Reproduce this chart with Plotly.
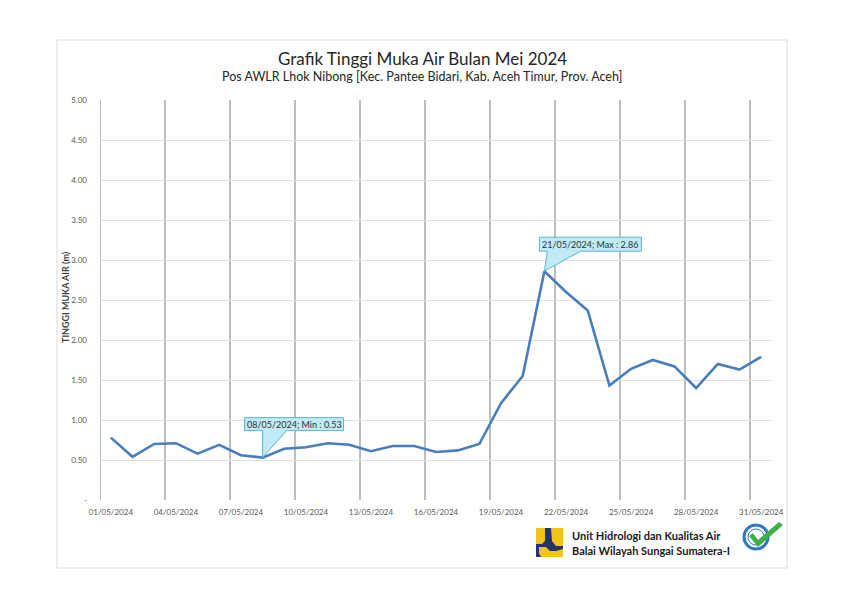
import plotly.graph_objects as go

# ---------------- data ----------------
days = list(range(1, 32))
dates = [f"{d:02d}/05/2024" for d in days]
levels = [0.78, 0.54, 0.70, 0.71, 0.58, 0.69, 0.56, 0.53, 0.64, 0.66,
          0.71, 0.69, 0.61, 0.675, 0.675, 0.60, 0.62, 0.70, 1.21, 1.55,
          2.86, 2.60, 2.37, 1.43, 1.64, 1.75, 1.67, 1.40, 1.70, 1.63, 1.79]
y_ticks = [0, 0.5, 1.0, 1.5, 2.0, 2.5, 3.0, 3.5, 4.0, 4.5, 5.0]
y_ticktext = ["-" if v == 0 else f"{v:.2f}" for v in y_ticks]
x_tick_idx = days[::3]
x_ticktext = [dates[d - 1] for d in x_tick_idx]
grid_bounds = [d - 0.5 for d in days[::3]]

title = "Grafik Tinggi Muka Air Bulan Mei 2024"
subtitle = "Pos AWLR Lhok Nibong [Kec. Pantee Bidari, Kab. Aceh Timur, Prov. Aceh]"
y_title = "TINGGI MUKA AIR (m)"
org1 = "Unit Hidrologi dan Kualitas Air"
org2 = "Balai Wilayah Sungai Sumatera-I"

FONT = "Lato"
W, H = 842, 595
L, R, T, B = 100, 70, 100, 95
PW, PH = W - L - R, H - T - B
VGRID = "#bdbdbd"


def px(x):
    return (x - L) / PW


def py(y):
    return (H - B - y) / PH


fig = go.Figure()
fig.add_trace(go.Scatter(
    x=days, y=levels, mode="lines",
    line=dict(color="#4a7dbb", width=2.6),
    hoverinfo="skip", showlegend=False,
))

shapes = []
annotations = []

# outer border
shapes.append(dict(type="rect", xref="paper", yref="paper",
                   x0=px(57), x1=px(787), y0=py(568), y1=py(40),
                   line=dict(color="#d9d9d9", width=1), layer="below"))

# left vertical line at the first category boundary
shapes.append(dict(type="line", xref="x", yref="paper",
                   x0=0.5, x1=0.5, y0=0, y1=1,
                   line=dict(color=VGRID, width=2), layer="below"))

# callouts (min & max)
i_min = min(range(len(levels)), key=lambda i: levels[i])
i_max = max(range(len(levels)), key=lambda i: levels[i])


def callout(i, label, bx0, bx1, by0, by1, w0, w1):
    xd, yd = days[i], levels[i]
    path = (f"M {bx0},{by1} L {bx1},{by1} L {bx1},{by0} L {w1},{by0} "
            f"L 0,0 L {w0},{by0} L {bx0},{by0} Z")
    shapes.append(dict(type="path", xref="x", yref="y",
                       xsizemode="pixel", ysizemode="pixel",
                       xanchor=xd, yanchor=yd, path=path,
                       fillcolor="#bfeaf7",
                       line=dict(color="#5fb4cc", width=1)))
    annotations.append(dict(x=xd, y=yd, xref="x", yref="y",
                            text=label, showarrow=False,
                            xanchor="center", yanchor="middle",
                            xshift=(bx0 + bx1) / 2, yshift=(by0 + by1) / 2,
                            font=dict(family=FONT, size=9, color="#303030")))


callout(i_min, f"{dates[i_min]}; Min : {levels[i_min]:.2f}",
        -18, 81, 27, 40, 0, 24)
callout(i_max, f"{dates[i_max]}; Max : {levels[i_max]:.2f}",
        -5, 97, 20, 34, 3, 36)


def txt(x, y, text, size, color="#262626", xanchor="center", angle=0):
    annotations.append(dict(xref="paper", yref="paper", x=px(x), y=py(y),
                            text=text, showarrow=False, textangle=angle,
                            xanchor=xanchor, yanchor="middle",
                            font=dict(family=FONT, size=size, color=color)))


# titles
txt(422, 58, title, 17)
txt(422, 77, subtitle, 12.5)
txt(65, 297, f"<b>{y_title}</b>", 9, "#404040", angle=-90)

# organisation text
txt(570, 535, f"<b>{org1}</b>", 11, "#1a1a1a", xanchor="left")
txt(570, 550, f"<b>{org2}</b>", 11, "#1a1a1a", xanchor="left")


def ppath(points):
    return "M " + " L ".join(f"{px(a):.5f},{py(b):.5f}" for a, b in points) + " Z"


# PUPR-like logo (decorative)
shapes.append(dict(type="path", xref="paper", yref="paper",
                   path=ppath([(536, 528), (563, 528), (563, 557), (536, 557)]),
                   fillcolor="#25336b", line=dict(width=0)))
shapes.append(dict(type="path", xref="paper", yref="paper",
                   path=ppath([(536, 528), (545, 528), (545, 541), (542, 544), (536, 544)]),
                   fillcolor="#f2c318", line=dict(width=0)))
shapes.append(dict(type="path", xref="paper", yref="paper",
                   path=ppath([(551, 528), (563, 528), (563, 546), (556, 546), (552, 541)]),
                   fillcolor="#f2c318", line=dict(width=0)))
shapes.append(dict(type="path", xref="paper", yref="paper",
                   path=ppath([(539, 547), (546, 547), (550, 551), (556, 551), (563, 549),
                               (563, 557), (541, 557), (539, 553)]),
                   fillcolor="#f2c318", line=dict(width=0)))

# certification badge (decorative)
shapes.append(dict(type="circle", xref="paper", yref="paper",
                   x0=px(744), x1=px(768), y0=py(549), y1=py(525),
                   fillcolor="white", line=dict(color="#2d79c7", width=3)))
shapes.append(dict(type="circle", xref="paper", yref="paper",
                   x0=px(748), x1=px(764), y0=py(545), y1=py(529),
                   fillcolor="white", line=dict(color="#2d79c7", width=1)))
shapes.append(dict(type="path", xref="paper", yref="paper",
                   path=ppath([(749, 536), (753, 533), (758, 540), (779, 522),
                               (783, 525), (758, 547)]),
                   fillcolor="#3fae49", line=dict(width=0)))

fig.update_layout(
    width=W, height=H,
    margin=dict(l=L, r=R, t=T, b=B),
    paper_bgcolor="white", plot_bgcolor="white",
    shapes=shapes, annotations=annotations,
    showlegend=False,
    xaxis=dict(
        range=[0.5, 31.5], tickmode="array",
        tickvals=x_tick_idx, ticktext=x_ticktext,
        showgrid=False, zeroline=False, showline=False,
        ticks="", ticklabelstandoff=6,
        tickfont=dict(family=FONT, size=8, color="#595959"),
        minor=dict(tickmode="array", tickvals=grid_bounds,
                   showgrid=True, gridcolor=VGRID, gridwidth=2,
                   ticks=""),
    ),
    yaxis=dict(
        range=[0, 5], tickmode="array",
        tickvals=y_ticks, ticktext=y_ticktext,
        showgrid=True, gridcolor="#e0e0e0", gridwidth=1,
        zeroline=False, showline=False, ticks="",
        ticklabelstandoff=12,
        tickfont=dict(family=FONT, size=8, color="#595959"),
    ),
)

fig.write_html("out.html", config={"displayModeBar": False},
               post_script="document.body.style.margin='0';")
